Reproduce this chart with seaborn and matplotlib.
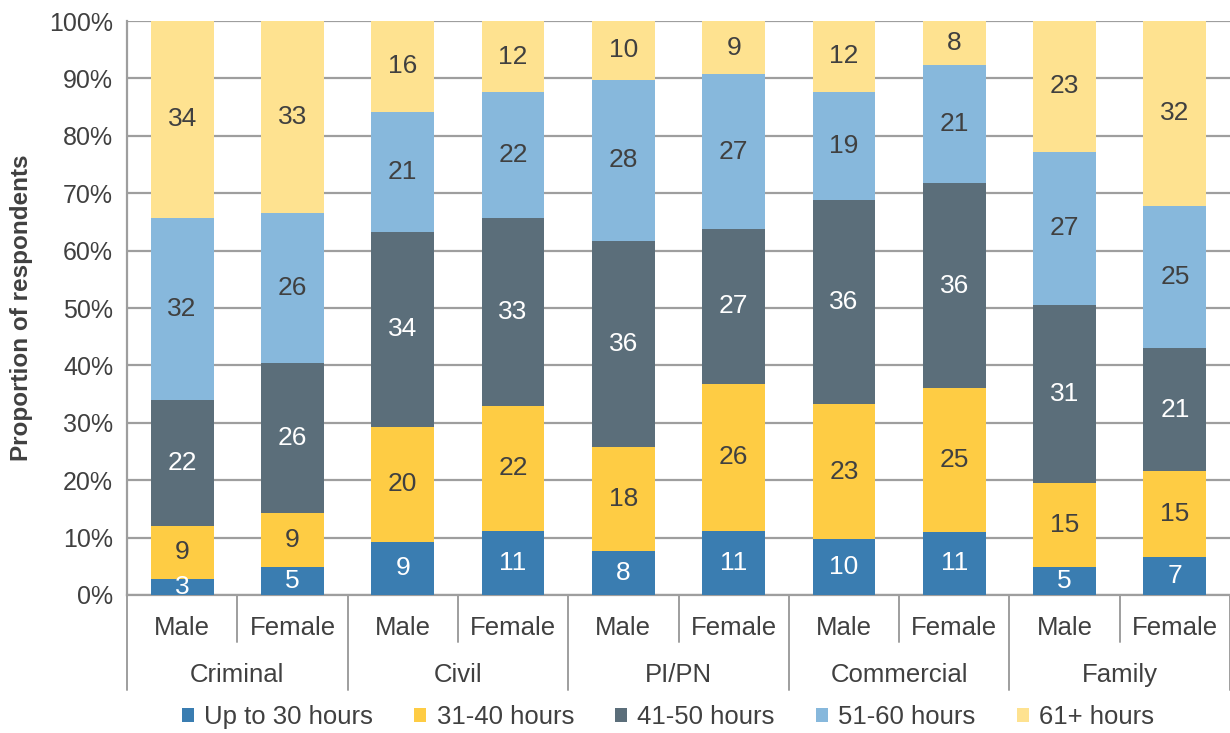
import matplotlib
matplotlib.use("Agg")
import matplotlib.pyplot as plt
import seaborn as sns
import pandas as pd
from matplotlib.patches import Patch
import matplotlib.ticker as ticker

areas = ["Criminal", "Civil", "PI/PN", "Commercial", "Family"]
genders = ["Male", "Female"]
series = ["Up to 30 hours", "31-40 hours", "41-50 hours", "51-60 hours", "61+ hours"]

# one value per bar: Criminal M/F, Civil M/F, PI/PN M/F, Commercial M/F, Family M/F
up_to_30 = [2.8, 4.8, 9.3, 11.2, 7.7, 11.2, 9.8, 11.0, 4.9, 6.6]
h31_40 = [9.3, 9.4, 20.0, 21.7, 18.1, 25.6, 23.4, 25.0, 14.6, 15.0]
h41_50 = [21.9, 26.2, 34.0, 32.8, 35.9, 27.0, 35.7, 35.7, 31.1, 21.4]
h51_60 = [31.7, 26.2, 20.9, 21.9, 28.1, 26.9, 18.8, 20.6, 26.6, 24.8]
h61_plus = [34.3, 33.4, 15.8, 12.4, 10.2, 9.3, 12.3, 7.7, 22.8, 32.2]

colors = ["#3A7DB1", "#FECC44", "#5B6E7A", "#87B8DC", "#FEE290"]
text_colors = ["white", "#404040", "white", "#404040", "#404040"]

sns.set_style("white")
plt.rcParams['font.family'] = ['Liberation Sans', 'DejaVu Sans']
txt = "#404040"
grid_c = "#9E9E9E"

bars = [a + "|" + g for a in areas for g in genders]
values = [up_to_30, h31_40, h41_50, h51_60, h61_plus]
rows = []
bottoms = [0.0] * len(bars)
for s, vals in zip(series, values):
    for i, b in enumerate(bars):
        rows.append({"bar": b, "series": s, "value": vals[i], "bottom": bottoms[i]})
        bottoms[i] += vals[i]
df = pd.DataFrame(rows)

fig = plt.figure(figsize=(12.3, 7.33), dpi=100)
ax = fig.add_axes([127 / 1230, 138 / 733, 1103 / 1230, 574 / 733])

for s, c, tc in zip(series, colors, text_colors):
    sub = df[df["series"] == s]
    sns.barplot(data=sub, x="bar", y="value", order=bars, bottom=sub["bottom"].values,
                color=c, saturation=1, width=0.57, errorbar=None, ax=ax, zorder=3,
                linewidth=0, edgecolor="none")
    for i, (v, b0) in enumerate(zip(sub["value"], sub["bottom"])):
        ax.text(i, b0 + v / 2, f"{v:.0f}", ha="center", va="center",
                fontsize=19, color=tc, zorder=4)

ax.set_xlim(-0.5, len(bars) - 0.5)
ax.set_ylim(0, 100)
ax.yaxis.set_major_locator(ticker.MultipleLocator(10))
ax.yaxis.set_major_formatter(ticker.FuncFormatter(lambda v, p: f"{v:.0f}%"))
ax.grid(axis="y", color=grid_c, linewidth=1.6, zorder=0)
ax.set_axisbelow(True)
ax.set_xticks([])
ax.set_xlabel("")
ax.set_ylabel("Proportion of respondents", fontsize=17.5, fontweight="bold", color=txt)
ax.yaxis.set_label_coords(-0.085, 0.5)
ax.tick_params(axis="y", labelsize=18, colors=txt, length=6, width=1.4, color=grid_c, pad=4)
for sp in ["top", "right"]:
    ax.spines[sp].set_visible(False)
for sp in ["left", "bottom"]:
    ax.spines[sp].set_color(grid_c)
    ax.spines[sp].set_linewidth(1.6)

# category axis below the plot
tr = ax.get_xaxis_transform()
for i, b in enumerate(bars):
    ax.text(i, -0.057, b.split("|")[1], transform=tr, ha="center", va="center",
            fontsize=18.5, color=txt)
for k, a in enumerate(areas):
    ax.text(2 * k + 0.5, -0.139, a, transform=tr, ha="center", va="center",
            fontsize=18.5, color=txt)
for k in range(len(bars) + 1):
    x = k - 0.5
    y_end = -0.165 if k % 2 == 0 else -0.082
    ax.plot([x, x], [0, y_end], transform=tr, color=grid_c, linewidth=1.4, clip_on=False)

handles = [Patch(facecolor=c, edgecolor="none") for c in colors]
fig.legend(handles, series, loc="center", bbox_to_anchor=(0.543, 16 / 733), ncol=5,
           frameon=False, handlelength=0.47, handleheight=0.47, handletextpad=0.4,
           columnspacing=1.6, prop={"size": 18.5}, labelcolor=txt,
           borderaxespad=0, borderpad=0)

fig.savefig("out.png", dpi=100)
